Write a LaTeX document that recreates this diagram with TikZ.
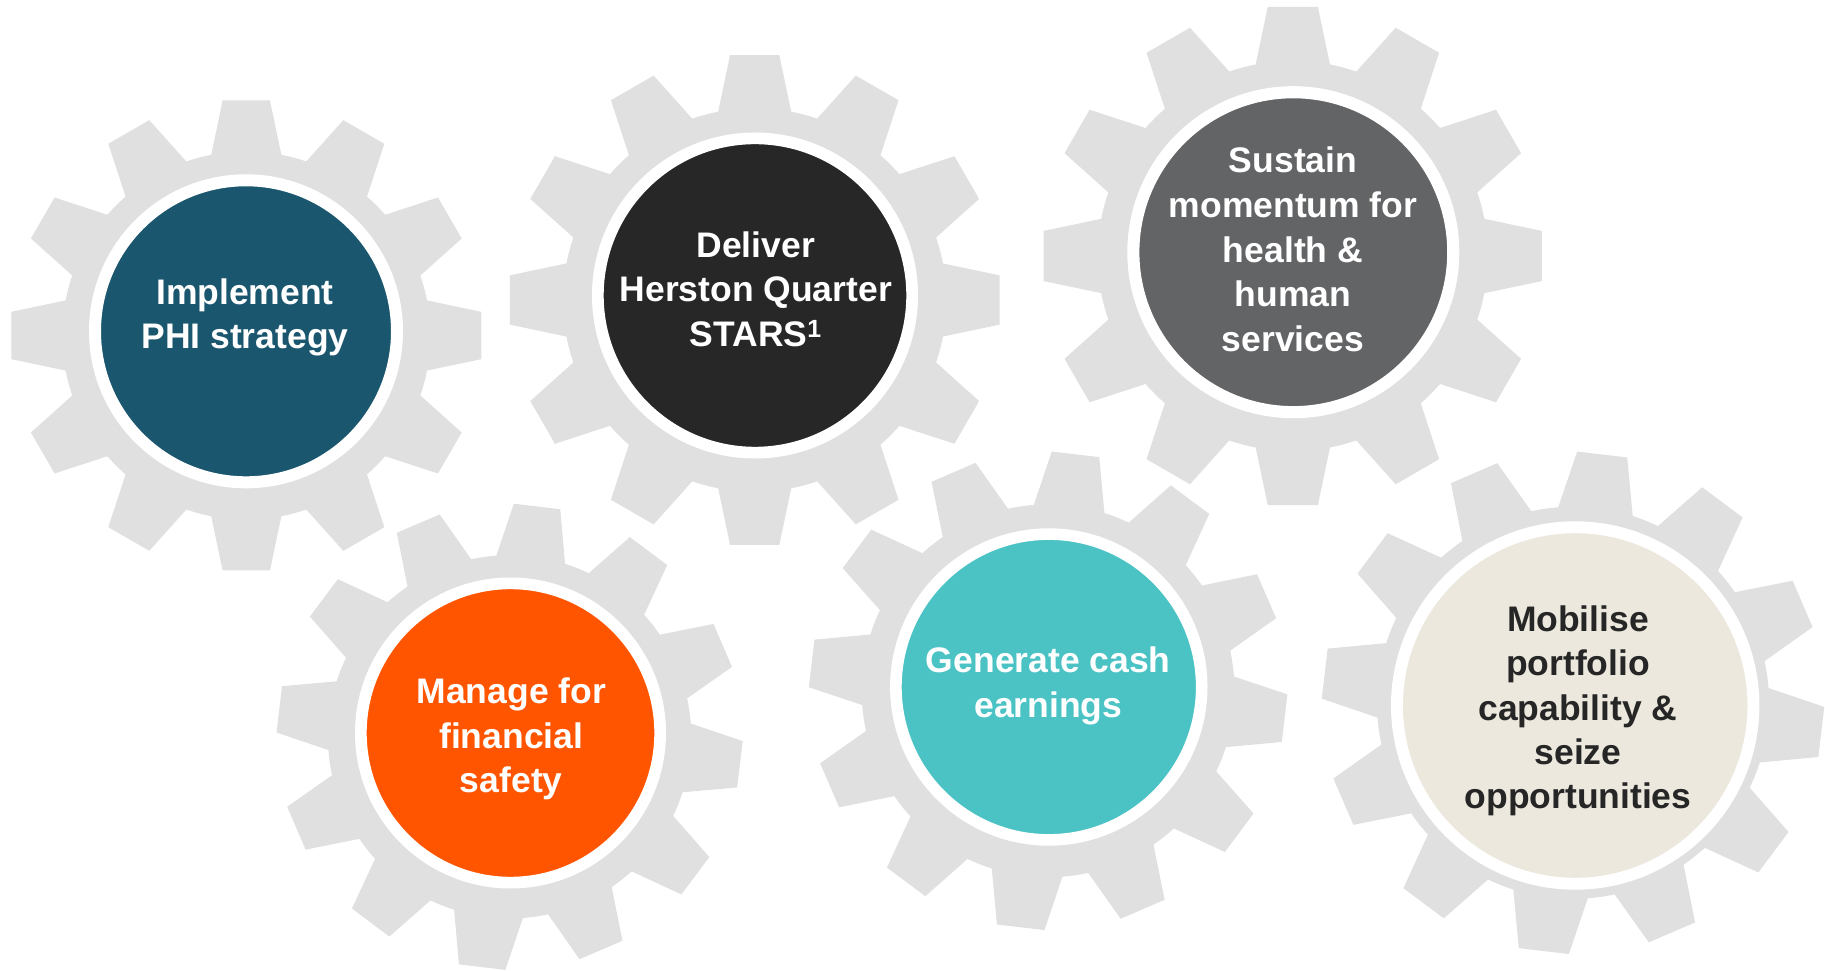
\documentclass[tikz,border=0pt]{standalone}
\usepackage{fontspec}
\setmainfont{Liberation Sans}

\definecolor{cog}{HTML}{E0E0E0}
\definecolor{phiblue}{HTML}{1A566E}
\definecolor{herston}{HTML}{272727}
\definecolor{sustain}{HTML}{636466}
\definecolor{safety}{HTML}{FF5500}
\definecolor{cash}{HTML}{4BC3C5}
\definecolor{mobilise}{HTML}{ECE8DD}
\definecolor{inkdark}{HTML}{262626}

% grey cog: #1 body radius, #2 tip radius, #3 tip half-width, #4 half-width at the tooth root
\newcommand{\cogwheel}[4]{%
  \fill[cog] (0,0) circle[radius=#1];
  \foreach \a in {0,30,...,330}{%
    \fill[cog,rotate=\a] ({#1-12},{-#4}) -- (#2,{-#3}) -- (#2,#3) -- ({#1-12},#4) -- cycle;}%
}

\tikzset{
  hub/.style={circle, inner sep=0pt, draw=white},
  goal/.style={anchor=base, inner sep=0pt, text=white,
    font=\bfseries\fontsize{35.5}{44.7}\selectfont},
}
\newcommand{\lines}[1]{\parbox[t]{360pt}{\centering #1}}

\begin{document}
\begin{tikzpicture}[x=1pt,y=1pt]
  \clip (0,0) rectangle (1825,970);
  \fill[white] (0,0) rectangle (1825,970);

  % cogs
  \begin{scope}[shift={(246.3,634.5)}]
    \cogwheel{184}{235}{23.65}{36.9}
  \end{scope}
  \begin{scope}[shift={(754.7,670)}, scale=1.042]
    \cogwheel{184}{235}{23.65}{36.9}
  \end{scope}
  \begin{scope}[shift={(1292.8,714)}, scale=1.06]
    \cogwheel{184}{235}{23.65}{36.9}
  \end{scope}
  \begin{scope}[shift={(509.6,233.2)}, rotate=-6.8, scale=0.987]
    \cogwheel{184}{235}{23.65}{36.9}
  \end{scope}
  \begin{scope}[shift={(1048.1,279.2)}, rotate=-6.6, scale=1.013]
    \cogwheel{184}{235}{23.65}{36.9}
  \end{scope}
  \begin{scope}[shift={(1573,267.2)}, rotate=-6.7]
    \cogwheel{196}{250}{25.2}{39.3}
  \end{scope}

  % coloured hubs with white rims
  \node[hub, fill=phiblue, minimum size=302pt, line width=12pt] (c1) at (246,638.7) {};
  \node[hub, fill=herston, minimum size=314.3pt, line width=11.7pt] (c2) at (755,674.5) {};
  \node[hub, fill=sustain, minimum size=319.9pt, line width=12.1pt] (c3) at (1293.3,717.8) {};
  \node[hub, fill=safety, minimum size=299.3pt, line width=11.7pt] (c4) at (510.5,237) {};
  \node[hub, fill=cash, minimum size=305.8pt, line width=11.6pt] (c5) at (1048.8,283) {};
  \node[hub, fill=mobilise, minimum size=356.5pt, line width=11.9pt] (c6) at (1575.2,264.5) {};

  % labels
  \node[goal] (t1) at (245,665.7) {\lines{Implement\\PHI strategy}};
  \node[goal] (t2) at (755.8,712.7) {\lines{Deliver\\Herston Quarter\\STARS\textsuperscript{1}}};
  \node[goal] (t3) at (1293,797.3) {\lines{Sustain\\momentum for\\health \&\\human\\services}};
  \node[goal] (t4) at (511.3,266.7) {\lines{Manage for\\financial\\safety}};
  \node[goal] (t5) at (1048.3,297.3) {\lines{Generate cash\\earnings}};
  \node[goal, text=inkdark, font=\bfseries\fontsize{35.5}{44.2}\selectfont] (t6) at (1578,338.3)
    {\lines{Mobilise\\portfolio\\capability \&\\seize\\opportunities}};
\end{tikzpicture}
\end{document}
